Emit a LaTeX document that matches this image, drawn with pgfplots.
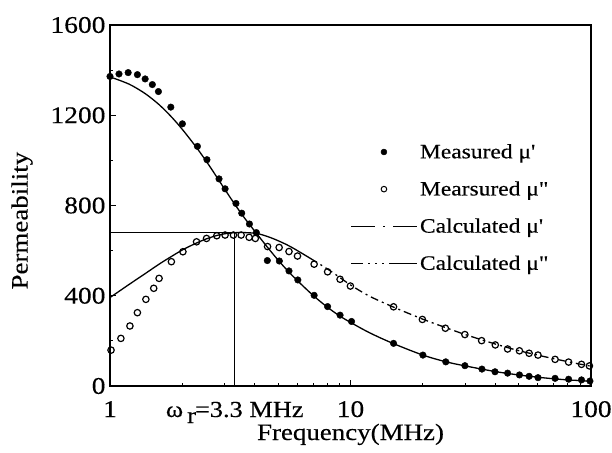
\documentclass[border=0pt]{standalone}
\usepackage{pgfplots}
\pgfplotsset{compat=1.18}
\usepackage{fontspec}
\setmainfont{Liberation Serif}[FakeStretch=1.15, FakeBold=0.3, Ligatures=TeXOff]

\pgfplotsset{
  markleg/.style={legend image code/.code={\draw[##1] plot coordinates {(1.15cm,0cm)};}},
  lineleg/.style={legend image code/.code={\draw[##1] (0cm,0cm) -- (66bp,0cm);}},
}

\begin{document}
\begin{tikzpicture}
\begin{axis}[
  scale only axis, width=481bp, height=361bp,
  clip mode=individual,
  xmode=log, xmin=1, xmax=100, ymin=0, ymax=1600,
  xtick={1,10,100}, xticklabels={1,10,100},
  minor xtick={2,3,4,5,6,7,8,9,20,30,40,50,60,70,80,90},
  ytick={0,400,800,1200,1600}, minor ytick={200,600,1000,1400},
  tick align=inside, xtick pos=bottom, ytick pos=left,
  major tick length=6bp, minor tick length=3.5bp,
  axis line style={line width=1.1bp},
  every tick/.style={black, line width=0.9bp},
  /pgf/number format/1000 sep={},
  /pgf/number format/assume math mode=true,
  tick label style={font=\fontsize{24}{27}\selectfont},
  xticklabel style={anchor=base, yshift=-31bp},
  yticklabel style={xshift=-1bp},
  xlabel={Frequency(MHz)},
  ylabel={Permeability},
  label style={font=\fontsize{23.5}{26}\selectfont},
  xlabel style={at={(axis description cs:0.5,0)}, anchor=base, yshift=-54bp},
  ylabel style={at={(axis description cs:-0.183,0.458)}, anchor=center, rotate=0},
  legend cell align=left,
  legend style={draw=none, fill=none, at={(axis description cs:0.50,0.676)},
    anchor=north west, font=\fontsize{20.5}{24}\selectfont, row sep=17.5bp,
    inner sep=0pt},
]

% calculated mu'
\addplot[forget plot, black, line width=1.3bp, smooth] coordinates {
(1,1370) (1.2,1338) (1.4,1296) (1.6,1247) (1.8,1193) (2,1137) (2.3,1054)
(2.6,973) (3,872) (3.3,806) (3.6,749) (4,686) (4.5,617) (5,558) (5.5,509)
(6,468) (7,401) (8,350) (9,311) (10,282) (12,236) (15,189) (20,137)
(25,107) (30,89) (40,64) (50,49) (60,39) (70,32) (80,27) (90,24) (100,21)};

% calculated mu'' (solid near the peak, dash-dotted in the tail)
\addplot[forget plot, black, line width=1.3bp, smooth] coordinates {
(1,392) (1.2,450) (1.4,498) (1.6,540) (1.8,574) (2.0,603) (2.25,630)
(2.5,651) (2.8,668) (3.1,677) (3.4,680) (3.8,679) (4.2,673) (4.8,652)
(5.6,619) (6.8,566)};
\addplot[forget plot, black, line width=1.3bp, smooth,
  dash pattern=on 8bp off 4bp on 2bp off 4bp] coordinates {
(6.8,566) (8.2,512) (10,448) (12,398) (15,351) (20,296) (25,258) (30,228)
(40,186) (50,157) (60,137) (70,121) (80,108) (90,97) (100,88)};

% resonance frequency guide lines
\addplot[forget plot, black, line width=1bp] coordinates {(1,680) (3.3,680) (3.3,0)};

% measured mu'
\addplot[forget plot, only marks, mark=*, mark size=3.3bp, black] coordinates {
(1.0,1372) (1.09,1383) (1.19,1389) (1.30,1380) (1.40,1361) (1.50,1336)
(1.59,1305) (1.79,1236) (2.00,1162) (2.31,1062) (2.53,1003) (2.84,918)
(3.01,874) (3.34,809) (3.53,766) (3.80,718) (4.06,680) (4.51,556)
(5.06,554) (5.55,510) (6.04,470) (7.06,402) (8.03,352) (9.05,314)
(10.1,286) (15.1,189) (20.0,137) (24.9,107) (29.9,90) (35.2,75) (39.9,63)
(45.0,57) (50.4,49) (55.3,43) (60.2,37) (70.9,34) (80.7,30) (91.3,27)
(99,22)};

% measured mu''
\addplot[forget plot, only marks, mark=o, mark size=3.2bp, black,
  mark options={line width=1.2bp, fill=white}] coordinates {
(1.01,159) (1.11,211) (1.21,266) (1.30,325) (1.41,384) (1.52,433)
(1.60,477) (1.80,551) (2.01,595) (2.29,639) (2.52,654) (2.78,666)
(3.01,669) (3.26,669) (3.51,669) (3.79,659) (4.02,654) (4.52,618)
(5.05,614) (5.55,596) (6.02,576) (7.06,540) (8.03,506) (9.05,473)
(9.99,443) (15.1,351) (19.9,295) (24.8,256) (29.9,228) (35.1,201)
(40,182) (45,164) (50.4,156) (55.3,145) (60.2,137) (70.9,118) (80.7,106)
(91.3,96) (98.5,89)};

% legend
\addlegendimage{black, mark=*, mark size=3bp, markleg}
\addlegendentry{Measured μ'}
\addlegendimage{black, mark=o, mark size=2.8bp, mark options={line width=1bp}, markleg}
\addlegendentry{Mearsured μ"}
\addlegendimage{black, line width=1.3bp,
  dash pattern=on 24bp off 8bp on 2bp off 8bp, lineleg}
\addlegendentry{Calculated μ'}
\addlegendimage{black, line width=1.1bp,
  dash pattern=on 12bp off 5bp on 2bp off 5bp on 2bp off 5bp on 2bp off 5bp on 28bp,
  lineleg}
\addlegendentry{Calculated μ"}

\node[anchor=base, font=\fontsize{23}{26}\selectfont] at (axis cs:3.3,0)
  [yshift=-31bp] {ω\hspace{4bp}\raisebox{-6bp}{r}\hspace{-1bp}=3.3 MHz};
\end{axis}
\pgfresetboundingbox
\path (current axis.south west) ++(-110bp,-67bp) rectangle ++(612bp,453bp);
\end{tikzpicture}
\end{document}
